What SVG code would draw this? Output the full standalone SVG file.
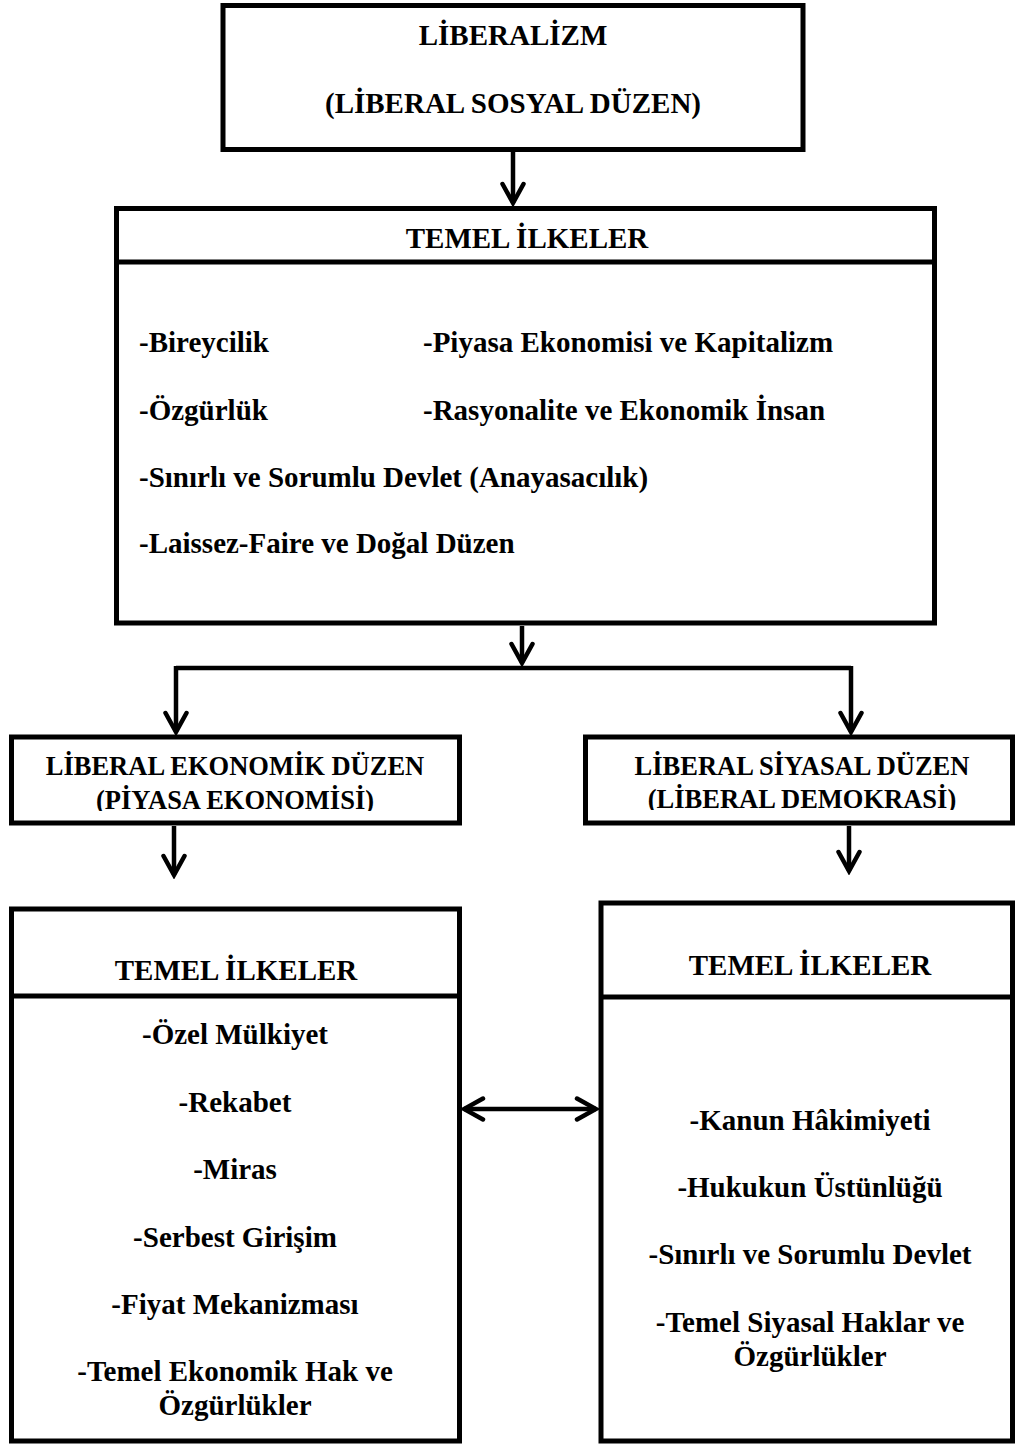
<svg xmlns="http://www.w3.org/2000/svg" width="1017" height="1445" viewBox="0 0 1017 1445">
<style>
.box{fill:#fff;stroke:#000;stroke-width:5}
.div{stroke:#000;stroke-width:5}
.t{font-family:"Liberation Serif","Times New Roman",serif;font-weight:bold;font-size:29px;fill:#000}
.h{font-size:26.5px}
.c{text-anchor:middle}
.conn{fill:none;stroke:#000;stroke-width:4.5}
</style>
<defs>
<marker id="arr" markerUnits="userSpaceOnUse" viewBox="-24 -14 28 28" refX="0" refY="0" markerWidth="28" markerHeight="28" orient="auto-start-reverse">
<path d="M-19,-10.5 L0,0 L-19,10.5" fill="none" stroke="#000" stroke-width="4.5" stroke-linecap="round" stroke-linejoin="miter"/>
</marker>
<clipPath id="clipL"><rect x="0" y="730" width="470" height="81"/></clipPath>
<clipPath id="clipR"><rect x="580" y="730" width="437" height="80"/></clipPath>
</defs>
<rect width="1017" height="1445" fill="#fff"/>

<g id="connectors">
<path class="conn" d="M513,152 V203" marker-end="url(#arr)"/>
<path class="conn" d="M522,626 V663" marker-end="url(#arr)"/>
<path class="conn" d="M176,668 H851"/>
<path class="conn" d="M176,666 V732" marker-end="url(#arr)"/>
<path class="conn" d="M851,666 V732" marker-end="url(#arr)"/>
<path class="conn" d="M174,826 V875" marker-end="url(#arr)"/>
<path class="conn" d="M849,826 V871" marker-end="url(#arr)"/>
<path class="conn" d="M464,1109 H596" marker-start="url(#arr)" marker-end="url(#arr)"/>
</g>

<g id="liberalizm">
<rect class="box" x="223" y="5.5" width="580" height="144"/>
<text class="t c" x="513" y="45">LİBERALİZM</text>
<text class="t c" x="513" y="113">(LİBERAL SOSYAL DÜZEN)</text>
</g>

<g id="temel-ilkeler">
<rect class="box" x="116.5" y="208.5" width="818" height="414.5"/>
<line class="div" x1="116.5" y1="262" x2="934.5" y2="262"/>
<text class="t c" x="527" y="248">TEMEL İLKELER</text>
<text class="t" x="139" y="352">-Bireycilik</text>
<text class="t" x="423" y="352">-Piyasa Ekonomisi ve Kapitalizm</text>
<text class="t" x="139" y="420">-Özgürlük</text>
<text class="t" x="423" y="420">-Rasyonalite ve Ekonomik İnsan</text>
<text class="t" x="139" y="487">-Sınırlı ve Sorumlu Devlet (Anayasacılık)</text>
<text class="t" x="139" y="553">-Laissez-Faire ve Doğal Düzen</text>
</g>

<g id="ekonomik-duzen">
<rect class="box" x="11.5" y="737" width="448" height="86"/>
<text class="t h c" x="235" y="775">LİBERAL EKONOMİK DÜZEN</text>
<text class="t h c" x="235" y="809" clip-path="url(#clipL)">(PİYASA EKONOMİSİ)</text>
</g>

<g id="siyasal-duzen">
<rect class="box" x="585.5" y="737" width="427" height="86"/>
<text class="t h c" x="802" y="775">LİBERAL SİYASAL DÜZEN</text>
<text class="t h c" x="802" y="808" clip-path="url(#clipR)">(LİBERAL DEMOKRASİ)</text>
</g>

<g id="ekonomik-ilkeler">
<rect class="box" x="11.5" y="909" width="448" height="532"/>
<line class="div" x1="11.5" y1="996" x2="459.5" y2="996"/>
<text class="t c" x="236" y="980">TEMEL İLKELER</text>
<text class="t c" x="235" y="1044">-Özel Mülkiyet</text>
<text class="t c" x="235" y="1112">-Rekabet</text>
<text class="t c" x="235" y="1179">-Miras</text>
<text class="t c" x="235" y="1247">-Serbest Girişim</text>
<text class="t c" x="235" y="1314">-Fiyat Mekanizması</text>
<text class="t c" x="235" y="1381">-Temel Ekonomik Hak ve</text>
<text class="t c" x="235" y="1415">Özgürlükler</text>
</g>

<g id="siyasal-ilkeler">
<rect class="box" x="601" y="903" width="411.5" height="538"/>
<line class="div" x1="601" y1="997" x2="1012.5" y2="997"/>
<text class="t c" x="810" y="975">TEMEL İLKELER</text>
<text class="t c" x="810" y="1130">-Kanun Hâkimiyeti</text>
<text class="t c" x="810" y="1197">-Hukukun Üstünlüğü</text>
<text class="t c" x="810" y="1264">-Sınırlı ve Sorumlu Devlet</text>
<text class="t c" x="810" y="1332">-Temel Siyasal Haklar ve</text>
<text class="t c" x="810" y="1366">Özgürlükler</text>
</g>
</svg>
